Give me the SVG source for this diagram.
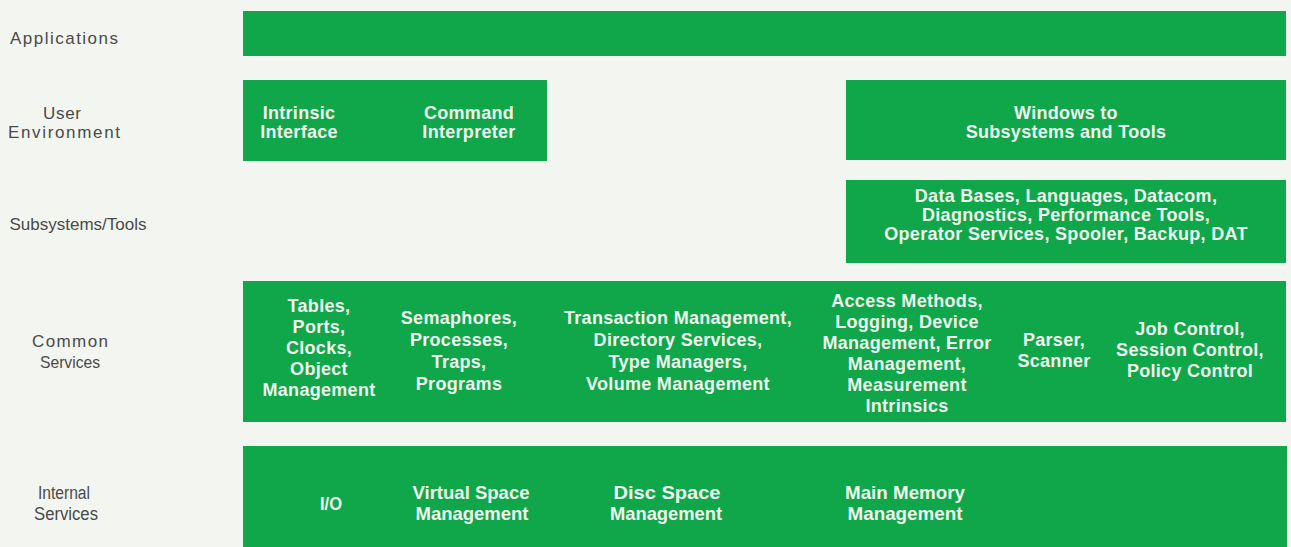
<svg xmlns="http://www.w3.org/2000/svg" width="1291" height="547" viewBox="0 0 1291 547">
<style>
.bg{fill:#f3f5f0}
.box{fill:#10a64a}
.lbl{font-family:"Liberation Sans",Arial,sans-serif;font-size:17px;fill:#4a4a4a;text-anchor:middle}
.t{font-family:"Liberation Sans",Arial,sans-serif;font-size:18px;font-weight:bold;fill:#eef8ee;text-anchor:middle;letter-spacing:0.3px}
.n{font-family:"Liberation Sans Narrow","Liberation Sans",Arial,sans-serif;font-size:19px;font-weight:bold;fill:#eef8ee;text-anchor:middle}
.ln{font-family:"Liberation Sans Narrow","Liberation Sans",Arial,sans-serif;font-size:18px;fill:#4a4a4a;text-anchor:middle}
</style>
<rect class="bg" x="0" y="0" width="1291" height="547"/>
<g id="labels">
<text class="lbl" x="64" y="44" textLength="108" lengthAdjust="spacing">Applications</text>
<text class="lbl" x="62" y="119" textLength="38" lengthAdjust="spacing">User</text>
<text class="lbl" x="64" y="138" textLength="112" lengthAdjust="spacing">Environment</text>
<text class="lbl" x="78" y="230" textLength="137" lengthAdjust="spacingAndGlyphs">Subsystems/Tools</text>
<text class="lbl" x="70" y="347" textLength="76" lengthAdjust="spacing">Common</text>
<text class="lbl" x="70" y="368" textLength="60" lengthAdjust="spacingAndGlyphs">Services</text>
<text class="ln" x="64" y="499" textLength="52" lengthAdjust="spacingAndGlyphs">Internal</text>
<text class="ln" x="66" y="520" textLength="64" lengthAdjust="spacingAndGlyphs">Services</text>
</g>
<g id="applications">
<rect class="box" x="243" y="11" width="1043" height="45"/>
</g>
<g id="user-environment-left">
<rect class="box" x="243" y="80" width="304" height="81"/>
<text class="t" x="299" y="119">Intrinsic</text>
<text class="t" x="299" y="138">Interface</text>
<text class="t" x="469" y="119">Command</text>
<text class="t" x="469" y="138">Interpreter</text>
</g>
<g id="windows">
<rect class="box" x="846" y="80" width="440" height="80"/>
<text class="t" x="1066" y="119">Windows to</text>
<text class="t" x="1066" y="138">Subsystems and Tools</text>
</g>
<g id="subsystems">
<rect class="box" x="846" y="180" width="440" height="83"/>
<text class="t" x="1066" y="202">Data Bases, Languages, Datacom,</text>
<text class="t" x="1066" y="221">Diagnostics, Performance Tools,</text>
<text class="t" x="1066" y="240">Operator Services, Spooler, Backup, DAT</text>
</g>
<g id="common-services">
<rect class="box" x="243" y="281" width="1043" height="141"/>
<text class="t" x="319" y="312">Tables,</text>
<text class="t" x="319" y="333">Ports,</text>
<text class="t" x="319" y="354">Clocks,</text>
<text class="t" x="319" y="375">Object</text>
<text class="t" x="319" y="396">Management</text>
<text class="t" x="459" y="324">Semaphores,</text>
<text class="t" x="459" y="346">Processes,</text>
<text class="t" x="459" y="368">Traps,</text>
<text class="t" x="459" y="390">Programs</text>
<text class="t" x="678" y="324">Transaction Management,</text>
<text class="t" x="678" y="346">Directory Services,</text>
<text class="t" x="678" y="368">Type Managers,</text>
<text class="t" x="678" y="390">Volume Management</text>
<text class="t" x="907" y="307">Access Methods,</text>
<text class="t" x="907" y="328">Logging, Device</text>
<text class="t" x="907" y="349">Management, Error</text>
<text class="t" x="907" y="370">Management,</text>
<text class="t" x="907" y="391">Measurement</text>
<text class="t" x="907" y="412">Intrinsics</text>
<text class="t" x="1054" y="346">Parser,</text>
<text class="t" x="1054" y="367">Scanner</text>
<text class="t" x="1190" y="335">Job Control,</text>
<text class="t" x="1190" y="356">Session Control,</text>
<text class="t" x="1190" y="377">Policy Control</text>
</g>
<g id="internal-services">
<rect class="box" x="243" y="446" width="1044" height="101"/>
<text class="n" x="331" y="510" textLength="22" lengthAdjust="spacingAndGlyphs">I/O</text>
<text class="n" x="471" y="499" textLength="117" lengthAdjust="spacingAndGlyphs">Virtual Space</text>
<text class="n" x="472" y="520" textLength="113" lengthAdjust="spacingAndGlyphs">Management</text>
<text class="n" x="667" y="499" textLength="107" lengthAdjust="spacingAndGlyphs">Disc Space</text>
<text class="n" x="666" y="520" textLength="112" lengthAdjust="spacingAndGlyphs">Management</text>
<text class="n" x="905" y="499" textLength="120" lengthAdjust="spacingAndGlyphs">Main Memory</text>
<text class="n" x="905" y="520" textLength="115" lengthAdjust="spacingAndGlyphs">Management</text>
</g>
<g id="connectors"></g>
</svg>
